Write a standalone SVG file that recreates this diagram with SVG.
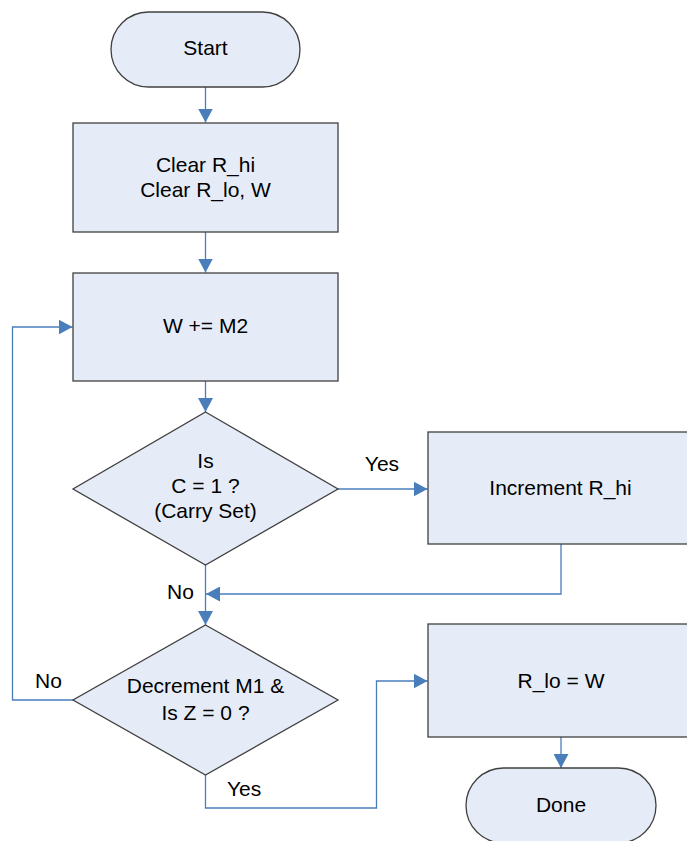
<svg xmlns="http://www.w3.org/2000/svg" width="687" height="841" viewBox="0 0 687 841">
  <style>
    .shape { fill: #e6ecf7; stroke: #404040; stroke-width: 1.3; }
    .conn { fill: none; stroke: #4a7ebb; stroke-width: 1.3; }
    text { font-family: "Liberation Sans", Arial, sans-serif; font-size: 21px; fill: #000; }
    .c { text-anchor: middle; }
  </style>
  <defs>
    <marker id="arrow" markerUnits="userSpaceOnUse" markerWidth="15" markerHeight="15" refX="14" refY="7.5" orient="auto">
      <path d="M0,0 L14,7.5 L0,15 z" fill="#4a7ebb"/>
    </marker>
  </defs>
  <rect width="687" height="841" fill="#ffffff"/>

  <!-- connectors -->
  <g id="connectors">
    <path class="conn" d="M205.5,87 V122.5" marker-end="url(#arrow)"/>
    <path class="conn" d="M205.5,232 V272.5" marker-end="url(#arrow)"/>
    <path class="conn" d="M205.5,381 V412" marker-end="url(#arrow)"/>
    <path class="conn" d="M338,489 H427.5" marker-end="url(#arrow)"/>
    <path class="conn" d="M561,544 V594 H206" marker-end="url(#arrow)"/>
    <path class="conn" d="M205.5,565 V625" marker-end="url(#arrow)"/>
    <path class="conn" d="M73,700 H12.5 V327 H72.5" marker-end="url(#arrow)"/>
    <path class="conn" d="M205.5,775 V808 H376.5 V681 H427.5" marker-end="url(#arrow)"/>
    <path class="conn" d="M561,737 V768" marker-end="url(#arrow)"/>
    <text x="382" y="471" class="c">Yes</text>
    <text x="167" y="599">No</text>
    <text x="35" y="688">No</text>
    <text x="227" y="796">Yes</text>
  </g>

  <g id="start">
    <rect class="shape" x="111" y="12" width="189" height="75" rx="37.5" ry="37.5"/>
    <text x="205.5" y="55" class="c">Start</text>
  </g>

  <g id="clear">
    <rect class="shape" x="73" y="123" width="265" height="109"/>
    <text x="205.5" y="172" class="c">Clear R_hi</text>
    <text x="205.5" y="197" class="c">Clear R_lo, W</text>
  </g>

  <g id="add">
    <rect class="shape" x="73" y="273" width="265" height="108"/>
    <text x="205.5" y="333" class="c">W += M2</text>
  </g>

  <g id="carry">
    <polygon class="shape" points="205.5,412 338,489 205.5,565 73,489"/>
    <text x="205.5" y="468" class="c">Is</text>
    <text x="205.5" y="493" class="c">C = 1 ?</text>
    <text x="205.5" y="518" class="c">(Carry Set)</text>
  </g>

  <g id="inc">
    <rect class="shape" x="428" y="432" width="265" height="112"/>
    <text x="560.5" y="495" class="c">Increment R_hi</text>
  </g>

  <g id="dec">
    <polygon class="shape" points="205.5,625 338,700 205.5,775 73,700"/>
    <text x="205.5" y="693" class="c">Decrement M1 &amp;</text>
    <text x="205.5" y="720" class="c">Is Z = 0 ?</text>
  </g>

  <g id="store">
    <rect class="shape" x="428" y="624" width="265" height="113"/>
    <text x="561" y="688" class="c">R_lo = W</text>
  </g>

  <g id="done">
    <rect class="shape" x="466" y="768" width="190" height="75" rx="37.5" ry="37.5"/>
    <text x="561" y="812" class="c">Done</text>
  </g>
</svg>
